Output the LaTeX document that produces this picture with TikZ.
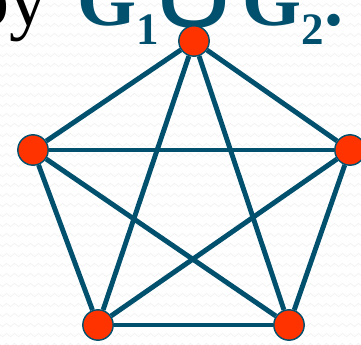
\documentclass[tikz,border=0pt]{standalone}
\usepackage{fontspec}
\usepackage{xcolor}
\setmainfont{Liberation Serif}
\newfontfamily\symfont{DejaVu Sans}
\usetikzlibrary{decorations.pathmorphing}
\definecolor{edgeteal}{RGB}{0,80,110}
\definecolor{vertred}{RGB}{255,51,0}
\newcommand{\subnum}[1]{\raisebox{-13pt}{\fontsize{32}{32}\selectfont #1}}

\begin{document}
\begin{tikzpicture}[
  line width=3.5pt,  vertex/.style={circle,draw=edgeteal,fill=vertred,line width=1pt,minimum size=0.76cm,inner sep=0pt},  edge/.style={draw=edgeteal},  words/.style={inner sep=0pt,font=\fontsize{54}{58}\selectfont},  setname/.style={words,text=edgeteal,font=\fontsize{54}{58}\selectfont\bfseries}
]
  \useasboundingbox (0,0) rectangle (9.025,8.625);
  \fill[white] (0,0) rectangle (9.025,8.625);
  \foreach \r in {0,0.25,...,8.6}
    \draw[black!6,line width=0.4pt,decorate,decoration={snake,amplitude=0.04cm,segment length=0.2cm}] (-0.1,\r) -- (9.2,\r);
  \node[words,anchor=base east] (by) at (1.25,7.975) {by};
  \node[setname,anchor=base west] (g1) at (1.875,7.975) {G\subnum{1}};
  \node[words,text=edgeteal,anchor=base] (cup) at (4.85,7.9) {\scalebox{1.75}[1.25]{\symfont ∪}};
  \node[setname,anchor=base west] (g2) at (6.0,7.975) {G\subnum{2}.};
  \node[vertex] (v0) at (4.850,7.600) {};
  \node[vertex] (v1) at (8.750,4.875) {};
  \node[vertex] (v2) at (7.225,0.500) {};
  \node[vertex] (v3) at (2.450,0.500) {};
  \node[vertex] (v4) at (0.825,4.875) {};
  \draw[edge] (v0) -- (v1);
  \draw[edge] (v0) -- (v2);
  \draw[edge] (v0) -- (v3);
  \draw[edge] (v0) -- (v4);
  \draw[edge] (v1) -- (v2);
  \draw[edge] (v1) -- (v3);
  \draw[edge] (v1) -- (v4);
  \draw[edge] (v2) -- (v3);
  \draw[edge] (v2) -- (v4);
  \draw[edge] (v3) -- (v4);
\end{tikzpicture}
\end{document}
